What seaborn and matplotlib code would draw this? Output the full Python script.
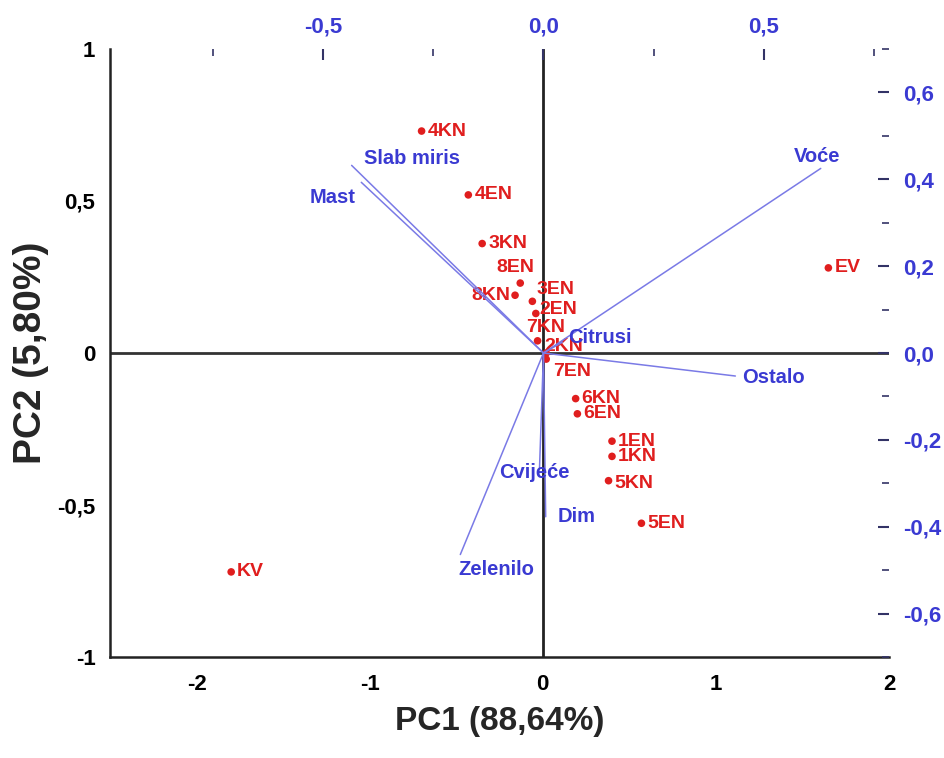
import matplotlib
matplotlib.use("Agg")
import matplotlib.pyplot as plt
import matplotlib.ticker as mticker
import seaborn as sns
import pandas as pd

# PCA scores (PC1, PC2) - bottom/left axes
score_labels = ["4KN", "4EN", "3KN", "8EN", "3EN", "8KN", "2EN", "7KN", "2KN",
                "7EN", "6KN", "6EN", "1EN", "1KN", "5KN", "5EN", "EV", "KV"]
pc1 = [-0.70, -0.43, -0.35, -0.13, -0.06, -0.16, -0.04, -0.03, 0.02,
       0.02, 0.19, 0.20, 0.40, 0.40, 0.38, 0.57, 1.65, -1.80]
pc2 = [0.73, 0.52, 0.36, 0.23, 0.17, 0.19, 0.13, 0.04, 0.00,
       -0.02, -0.15, -0.20, -0.29, -0.34, -0.42, -0.56, 0.28, -0.72]

# loadings - top/right axes
loading_labels = ["Slab miris", "Mast", "Voće", "Ostalo", "Citrusi",
                  "Cvijeće", "Dim", "Zelenilo"]
load_x = [-0.436, -0.414, 0.630, 0.436, 0.043, -0.009, 0.005, -0.189]
load_y = [0.432, 0.393, 0.425, -0.053, 0.025, -0.264, -0.377, -0.464]

# label placement (pixels from point) - style only
score_offsets = {"8EN": (-24, 16, "left"), "3EN": (4, 12, "left"),
                 "8KN": (-5, 0, "right"), "2EN": (4, 4, "left"),
                 "7KN": (-11, 13, "left"), "2KN": (-2, 7, "left"),
                 "7EN": (7, -12, "left"), "5KN": (6, -3, "left")}
load_offsets = {"Slab miris": (12, 7, "left"), "Mast": (-6, -15, "right"),
                "Voće": (-4, 12, "center"), "Ostalo": (7, -1, "left"),
                "Citrusi": (6, 5, "left"), "Cvijeće": (-5, -5, "center"),
                "Dim": (12, 0, "left"), "Zelenilo": (-2, -15, "left")}

RED = "#e01e1e"
BLUE = "#3a3ad2"
LBLUE = "#7a7ae6"
FONT = ['Liberation Sans', 'DejaVu Sans']

sns.set_style("white")
plt.rcParams['font.family'] = ['Liberation Sans Narrow', 'Liberation Sans', 'DejaVu Sans']
plt.rcParams['font.weight'] = 'bold'
plt.rcParams['axes.unicode_minus'] = False

fig = plt.figure(figsize=(9.45, 7.58), dpi=100)
pos = [0.1164, 0.1332, 0.8243, 0.8022]
ax = fig.add_axes(pos)
ax2 = fig.add_axes(pos, frameon=False)

comma = mticker.FuncFormatter(lambda v, p: (f"{v:.1f}".replace(".", ",")
                                             if abs(v - round(v)) > 1e-9 else f"{v:.0f}"))
comma1 = mticker.FuncFormatter(lambda v, p: f"{v:.1f}".replace(".", ","))

# main axes
ax.set_xlim(-2.5, 2.0)
ax.set_ylim(-1.0, 1.0)
ax.axhline(0, color="#333333", lw=2, zorder=1)
ax.axvline(0, color="#222222", lw=2, zorder=1)

df = pd.DataFrame({"PC1": pc1, "PC2": pc2, "label": score_labels})
sns.scatterplot(data=df, x="PC1", y="PC2", color=RED, s=30, edgecolor="none",
                ax=ax, zorder=4)
for _, row in df.iterrows():
    dx, dy, ha = score_offsets.get(row["label"], (6, 0, "left"))
    ax.annotate(row["label"], (row["PC1"], row["PC2"]), xytext=(dx, dy),
                textcoords="offset pixels", ha=ha, va="center", color=RED,
                fontsize=14, fontweight="bold", family=FONT, zorder=5)

ax.xaxis.set_major_locator(mticker.MultipleLocator(1))
ax.xaxis.set_minor_locator(mticker.MultipleLocator(0.5))
ax.yaxis.set_major_locator(mticker.MultipleLocator(0.5))
ax.xaxis.set_major_formatter(comma)
ax.yaxis.set_major_formatter(comma)
ax.tick_params(axis="both", which="major", direction="out", length=7, width=1.5,
               labelsize=16, colors="black")
ax.tick_params(axis="x", which="minor", direction="out", length=5, width=1.2)
ax.tick_params(axis="x", pad=5)
ax.set_xlabel("PC1 (88,64%)", fontsize=24, fontweight="bold", labelpad=8, family=FONT)
ax.set_ylabel("PC2 (5,80%)", fontsize=28, fontweight="bold", labelpad=6, family=FONT)
for s in ["left", "bottom"]:
    ax.spines[s].set_color("#222222")
    ax.spines[s].set_linewidth(1.8)
for s in ["top", "right"]:
    ax.spines[s].set_visible(False)

# loadings axes
ax2.set_xlim(-0.985, 0.785)
ax2.set_ylim(-0.7, 0.7)
ax2.xaxis.tick_top()
ax2.yaxis.tick_right()
ax2.xaxis.set_major_locator(mticker.MultipleLocator(0.5))
ax2.xaxis.set_minor_locator(mticker.MultipleLocator(0.25))
ax2.yaxis.set_major_locator(mticker.MultipleLocator(0.2))
ax2.yaxis.set_minor_locator(mticker.MultipleLocator(0.1))
ax2.xaxis.set_major_formatter(comma1)
ax2.yaxis.set_major_formatter(comma1)
ax2.tick_params(axis="both", which="major", direction="in", length=8, width=1.5,
                labelsize=16, labelcolor=BLUE, color="#333366")
ax2.tick_params(axis="both", which="minor", direction="in", length=5, width=1.2,
                color="#333366")
ax2.tick_params(axis="x", pad=8)
ax2.tick_params(axis="y", pad=10)
ax2.spines["top"].set_visible(True)
ax2.spines["right"].set_visible(True)
ax2.spines["top"].set_color("#5a5ae6")
ax2.spines["right"].set_color("#5a5ae6")
ax2.spines["top"].set_linewidth(2.2)
ax2.spines["right"].set_linewidth(2.2)
ax2.spines["left"].set_visible(False)
ax2.spines["bottom"].set_visible(False)

for name, lx, ly in zip(loading_labels, load_x, load_y):
    ax2.plot([0, lx], [0, ly], color=LBLUE, lw=1.1, zorder=2)
    dx, dy, ha = load_offsets[name]
    ax2.annotate(name, (lx, ly), xytext=(dx, dy), textcoords="offset pixels",
                 ha=ha, va="center", color=BLUE, fontsize=14.5, fontweight="bold",
                 family=FONT, zorder=5)

fig.savefig("out.png", dpi=100)
